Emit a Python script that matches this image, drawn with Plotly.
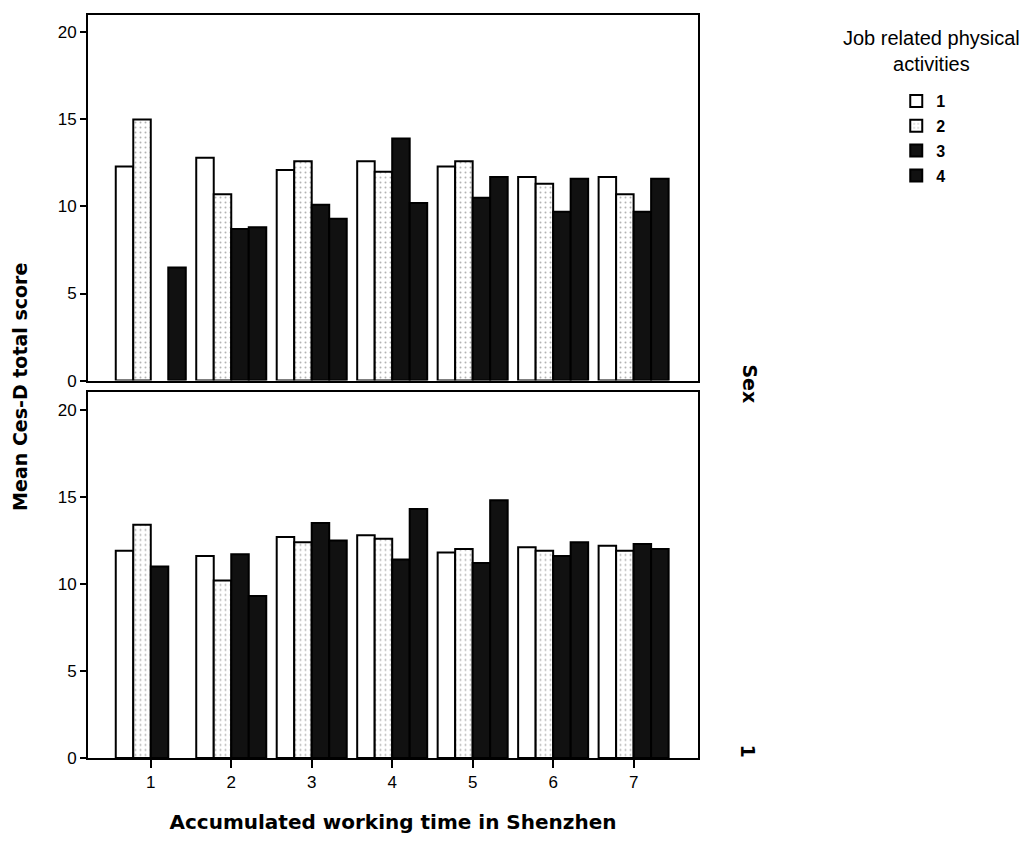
import plotly.graph_objects as go
from plotly.subplots import make_subplots

# ---- data ----
periods = [1, 2, 3, 4, 5, 6, 7]
tick_labels = ["1", "2", "3", "4", "5", "6", "7"]
activity_levels = ["1", "2", "3", "4"]

# top panel (Sex = first group)
top_act1 = [12.3, 12.8, 12.1, 12.6, 12.3, 11.7, 11.7]
top_act2 = [15.0, 10.7, 12.6, 12.0, 12.6, 11.3, 10.7]
top_act3 = [None, 8.7, 10.1, 13.9, 10.5, 9.7, 9.7]
top_act4 = [6.5, 8.8, 9.3, 10.2, 11.7, 11.6, 11.6]

# bottom panel (Sex = 1)
bot_act1 = [11.9, 11.6, 12.7, 12.8, 11.8, 12.1, 12.2]
bot_act2 = [13.4, 10.2, 12.4, 12.6, 12.0, 11.9, 11.9]
bot_act3 = [11.0, 11.7, 13.5, 11.4, 11.2, 11.6, 12.3]
bot_act4 = [None, 9.3, 12.5, 14.3, 14.8, 12.4, 12.0]

FONT = "Liberation Sans, Arial, sans-serif"
BOLD = "DejaVu Sans, Liberation Sans, sans-serif"

fig = make_subplots(rows=2, cols=1, shared_xaxes=False, vertical_spacing=0.016)

styles = [
    dict(marker_color="white"),
    dict(marker_color="white",
         marker_pattern=dict(shape=".", fgcolor="#666666", bgcolor="white", size=5, solidity=0.12)),
    dict(marker_color="#111111"),
    dict(marker_color="#111111"),
]

top_series = [top_act1, top_act2, top_act3, top_act4]
bot_series = [bot_act1, bot_act2, bot_act3, bot_act4]

for i, (name, vals) in enumerate(zip(activity_levels, top_series)):
    fig.add_trace(go.Bar(x=periods, y=vals, name="<b>" + name + "</b>", legendgroup=name,
                         marker_line=dict(color="black", width=2), showlegend=True,
                         **styles[i]), row=1, col=1)
for i, (name, vals) in enumerate(zip(activity_levels, bot_series)):
    fig.add_trace(go.Bar(x=periods, y=vals, name="<b>" + name + "</b>", legendgroup=name,
                         marker_line=dict(color="black", width=2), showlegend=False,
                         **styles[i]), row=2, col=1)

axis_common = dict(showline=True, linecolor="black", linewidth=2, mirror=True,
                   showgrid=False, zeroline=False)

fig.update_xaxes(range=[0.22, 7.8], tickvals=periods, ticktext=tick_labels, **axis_common)
fig.update_xaxes(showticklabels=False, ticks="", row=1, col=1)
fig.update_xaxes(ticks="outside", ticklen=8, tickwidth=2, tickcolor="black",
                 tickfont=dict(family=FONT, size=17, color="black"),
                 title=dict(text="<b>Accumulated working time in Shenzhen</b>",
                            font=dict(family=BOLD, size=20, color="black"), standoff=24),
                 row=2, col=1)
fig.update_yaxes(range=[0, 21], tickvals=[0, 5, 10, 15, 20], ticks="outside", ticklen=6,
                 tickwidth=2, tickcolor="black",
                 tickfont=dict(family=FONT, size=17, color="black"), **axis_common)

fig.update_layout(
    width=1025, height=841,
    margin=dict(l=80, r=335, t=5, b=91),
    paper_bgcolor="white", plot_bgcolor="white",
    barmode="group", bargap=0.13, bargroupgap=0,
    font=dict(family=FONT, color="black"),
    legend=dict(x=1.325, y=0.907, xanchor="left", yanchor="top",
                font=dict(family=FONT, size=16, color="black"),
                bgcolor="rgba(0,0,0,0)", itemwidth=30, tracegroupgap=1),
    annotations=[
        dict(text="Job related physical<br>activities", x=1.382, y=0.952,
             xref="paper", yref="paper", showarrow=False, xanchor="center", yanchor="middle",
             font=dict(family=FONT, size=20, color="black")),
        dict(text="<b>Mean Ces-D total score</b>", x=-0.1125, y=0.5, xref="paper", yref="paper",
             showarrow=False, textangle=-90, xanchor="center", yanchor="middle",
             font=dict(family=BOLD, size=19, color="black")),
        dict(text="<b>Sex</b>", x=1.085, y=0.503, xref="paper", yref="paper",
             showarrow=False, textangle=90, xanchor="center", yanchor="middle",
             font=dict(family=BOLD, size=19, color="black")),
        dict(text="<b>1</b>", x=1.082, y=0.01, xref="paper", yref="paper",
             showarrow=False, textangle=90, xanchor="center", yanchor="middle",
             font=dict(family=BOLD, size=19, color="black")),
    ],
)

fig.write_html("out.html")
